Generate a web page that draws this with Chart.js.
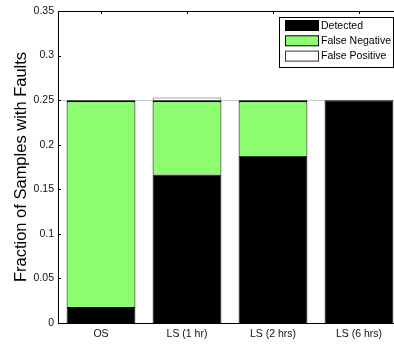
<!DOCTYPE html>
<html>
<head>
<meta charset="utf-8">
<script src="https://cdn.jsdelivr.net/npm/chart.js@4"></script>
<style>
  html, body { margin: 0; padding: 0; background: #fff; overflow: hidden; }
  #wrap { width: 394px; height: 345px; overflow: hidden; position: relative; }
  #box { width: 410px; height: 345px; position: absolute; left: 0; top: 0; }
</style>
</head>
<body>
<div id="wrap"><div id="box"><canvas id="c"></canvas></div></div>
<script>
// Fault detection outcomes per sampling strategy
const categories = ['OS', 'LS (1 hr)', 'LS (2 hrs)', 'LS (6 hrs)'];
const detected = [0.018, 0.1667, 0.1875, 0.25];
const falseNegative = [0.232, 0.0833, 0.0625, 0];
const falsePositive = [0, 0.003, 0, 0];
const yTicks = [0, 0.05, 0.1, 0.15, 0.2, 0.25, 0.3, 0.35];
const faultRate = 0.25;

const FONT = '"Liberation Sans", Arial, sans-serif';

// Reference line at the true fault rate, drawn behind the bars
const refLine = {
  id: 'refLine',
  beforeDatasetsDraw(chart) {
    const { ctx, chartArea, scales } = chart;
    const y = Math.round(scales.y.getPixelForValue(faultRate)) + 0.5;
    ctx.save();
    ctx.strokeStyle = '#c8c8c8';
    ctx.lineWidth = 1;
    ctx.beginPath();
    ctx.moveTo(chartArea.left, y);
    ctx.lineTo(chartArea.right, y);
    ctx.stroke();
    ctx.restore();
  }
};

// Axes box with inward ticks and the boxed legend
const frame = {
  id: 'frame',
  afterDatasetsDraw(chart) {
    const { ctx, chartArea, scales } = chart;
    const { left, right, top, bottom } = chartArea;
    ctx.save();
    ctx.strokeStyle = '#000';
    ctx.lineWidth = 1;
    ctx.beginPath();
    ctx.rect(Math.round(left) + 0.5, Math.round(top) + 0.5,
             Math.round(right - left), Math.round(bottom - top));
    ctx.stroke();
    // y ticks, inward
    ctx.beginPath();
    yTicks.forEach(v => {
      const y = Math.round(scales.y.getPixelForValue(v)) + 0.5;
      ctx.moveTo(left, y); ctx.lineTo(left + 3, y);
      ctx.moveTo(right, y); ctx.lineTo(right - 3, y);
    });
    // x ticks, inward on top and bottom
    categories.forEach((c, i) => {
      const x = Math.round(scales.x.getPixelForValue(i)) + 0.5;
      ctx.moveTo(x, top); ctx.lineTo(x, top + 3);
      ctx.moveTo(x, bottom); ctx.lineTo(x, bottom - 3);
    });
    ctx.stroke();

    // legend
    const lx = 279.5, ly = 17.5, lw = 114, lh = 50;
    ctx.fillStyle = '#fff';
    ctx.fillRect(lx, ly, lw, lh);
    ctx.strokeStyle = '#000';
    ctx.strokeRect(lx, ly, lw, lh);
    ctx.font = '10.5px ' + FONT;
    ctx.textBaseline = 'middle';
    chart.data.datasets.forEach((ds, i) => {
      const sy = 20.5 + i * 15.3;
      ctx.fillStyle = ds.backgroundColor;
      ctx.fillRect(285.5, sy, 33, 10);
      ctx.strokeStyle = i === 2 ? '#333' : '#000';
      ctx.strokeRect(285.5, sy, 33, 10);
      ctx.fillStyle = '#000';
      ctx.fillText(ds.label, 321, sy + 5.5);
    });
    ctx.restore();
  }
};

new Chart(document.getElementById('c'), {
  type: 'bar',
  data: {
    labels: categories,
    datasets: [
      { label: 'Detected', data: detected, backgroundColor: '#000000',
        borderColor: '#000000', borderWidth: 1 },
      { label: 'False Negative', data: falseNegative, backgroundColor: 'rgb(140,254,112)',
        borderColor: '#000000', borderWidth: { top: 2, left: 1, right: 1, bottom: 1 } },
      { label: 'False Positive', data: falsePositive, backgroundColor: '#ffffff',
        borderColor: '#555555', borderWidth: 1 }
    ]
  },
  options: {
    responsive: true,
    maintainAspectRatio: false,
    animation: false,
    devicePixelRatio: 1,
    layout: { padding: { top: 11, right: 8, left: 0, bottom: 0 } },
    plugins: { legend: { display: false }, tooltip: { enabled: false } },
    datasets: { bar: { barPercentage: 0.8, categoryPercentage: 1 } },
    scales: {
      x: {
        stacked: true,
        grid: { display: false, drawTicks: false },
        border: { display: false },
        ticks: { color: '#111', font: { family: FONT, size: 10.5 }, padding: 5, maxRotation: 0 },
        afterFit(s) { s.height = 22; }
      },
      y: {
        stacked: true,
        min: 0, max: 0.35,
        grid: { display: false, drawTicks: false },
        border: { display: false },
        afterBuildTicks(s) { s.ticks = yTicks.map(v => ({ value: v })); },
        ticks: {
          color: '#111', font: { family: FONT, size: 10.5 }, padding: 4,
          callback: v => String(Number(v.toFixed(2)))
        },
        title: { display: true, text: 'Fraction of Samples with Faults',
                 color: '#000', font: { family: FONT, size: 16.5 }, padding: { top: 12, bottom: 0 } },
        afterFit(s) { s.width = 58; }
      }
    }
  },
  plugins: [refLine, frame]
});
</script>
</body>
</html>
